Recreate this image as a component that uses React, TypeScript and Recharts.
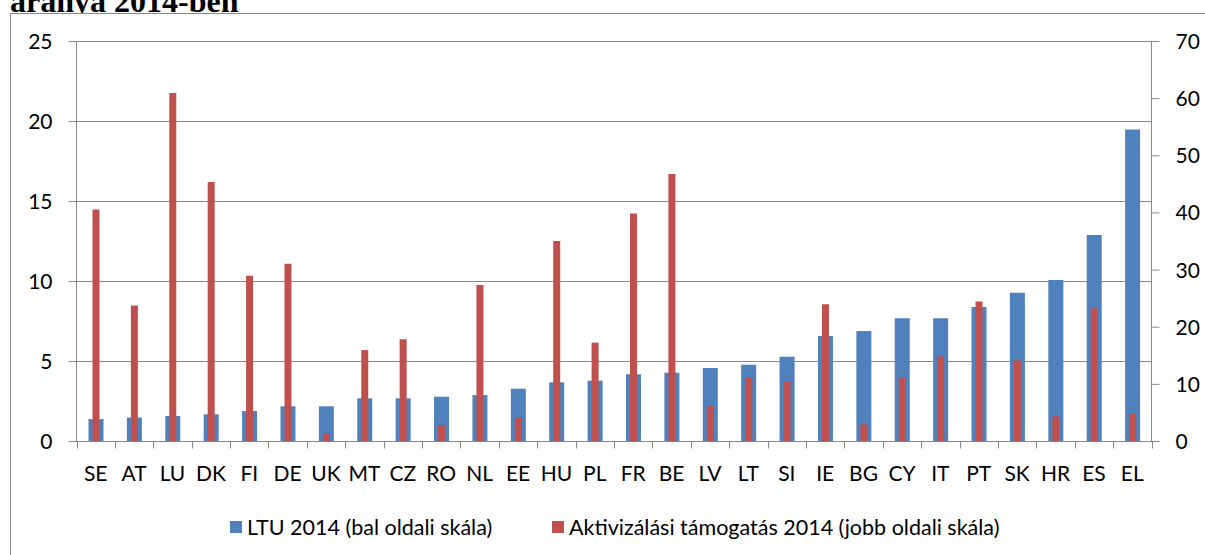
import { ComposedChart, Bar, XAxis, YAxis, CartesianGrid } from 'recharts';

const countries = ['SE', 'AT', 'LU', 'DK', 'FI', 'DE', 'UK', 'MT', 'CZ', 'RO', 'NL', 'EE', 'HU', 'PL', 'FR', 'BE', 'LV', 'LT', 'SI', 'IE', 'BG', 'CY', 'IT', 'PT', 'SK', 'HR', 'ES', 'EL'];
// LTU 2014, bal oldali skála
const ltu2014 = [1.4, 1.5, 1.6, 1.7, 1.9, 2.2, 2.2, 2.7, 2.7, 2.8, 2.9, 3.3, 3.7, 3.8, 4.2, 4.3, 4.6, 4.8, 5.3, 6.6, 6.9, 7.7, 7.7, 8.4, 9.3, 10.1, 12.9, 19.5];
// Aktivizálási támogatás 2014, jobb oldali skála
const aktiv2014 = [40.6, 23.8, 61.0, 45.4, 29.0, 31.1, 1.4, 16.0, 17.9, 2.9, 27.4, 4.1, 35.1, 17.3, 39.9, 46.8, 6.2, 11.2, 10.5, 24.0, 3.0, 11.1, 14.9, 24.5, 14.2, 4.4, 23.3, 4.8];
const leftTicks = [0, 5, 10, 15, 20, 25];
const rightTicks = [0, 10, 20, 30, 40, 50, 60, 70];
const seriesNames = ['LTU 2014 (bal oldali skála)', 'Aktivizálási támogatás 2014 (jobb oldali skála)'];
const title = 'aránya 2014-ben';

const data = countries.map((c, i) => ({ c, ltu: ltu2014[i], akt: aktiv2014[i] }));

const W = 1205;
const H = 555;
const M = { top: 41.5, right: 3.5, bottom: 73.5, left: 16.5 };
const LEFT_W = 60;
const RIGHT_W = 50;
const BAND = (W - M.left - M.right - LEFT_W - RIGHT_W) / countries.length;

const GRID = '#888888';
const BLUE = '#4F81BD';
const RED = '#C0504D';
const FONT = 'Lato, "Open Sans", sans-serif';

const tickText = { fill: '#000', fontSize: 21, fontFamily: FONT };

function CountryTick({ x, y, payload, index }: { x: number; y: number; payload: { value: string }; index: number }) {
  const edge = (px: number) => Math.round(px) + 0.5;
  return (
    <g>
      <line x1={edge(x - BAND / 2)} x2={edge(x - BAND / 2)} y1={y} y2={y + 7} stroke={GRID} />
      {index === countries.length - 1 && (
        <line x1={edge(x + BAND / 2)} x2={edge(x + BAND / 2)} y1={y} y2={y + 7} stroke={GRID} />
      )}
      <text x={x} y={y + 39} textAnchor="middle" {...tickText}>{payload.value}</text>
    </g>
  );
}

export default function App() {
  return (
    <div style={{ position: 'absolute', left: 0, top: 0, width: W, height: H, background: '#fff', overflow: 'hidden' }}>
      <div style={{ position: 'absolute', left: 10, top: -15, fontFamily: '"Liberation Serif", serif', fontWeight: 'bold', fontSize: 32, lineHeight: '32px', whiteSpace: 'nowrap' }}>
        {title}
      </div>
      <div style={{ position: 'absolute', left: 10, top: 13, right: -10, bottom: -10, borderLeft: `1px solid ${GRID}`, borderTop: `1px solid ${GRID}`, background: '#fff' }} />
      <div style={{ position: 'absolute', left: 0, top: 0 }}>
        <ComposedChart width={W} height={H} data={data} margin={M} barGap={0}>
          <CartesianGrid xAxisId="a" yAxisId="l" vertical={false} stroke={GRID} />
          <XAxis xAxisId="a" dataKey="c" height={40} interval={0} tickLine={false} tickSize={0} tickMargin={0}
            axisLine={{ stroke: GRID }} tick={(p: any) => <CountryTick {...p} />} />
          <XAxis xAxisId="b" dataKey="c" hide />
          <YAxis yAxisId="l" domain={[0, 25]} ticks={leftTicks} width={LEFT_W} tickSize={8} tickMargin={16}
            axisLine={{ stroke: GRID }} tickLine={{ stroke: GRID }} tick={tickText} />
          <YAxis yAxisId="r" orientation="right" domain={[0, 70]} ticks={rightTicks} width={RIGHT_W} tickSize={8} tickMargin={16}
            axisLine={{ stroke: GRID }} tickLine={{ stroke: GRID }} tick={tickText} />
          <Bar xAxisId="a" yAxisId="l" dataKey="ltu" name={seriesNames[0]} fill={BLUE} barSize={15} isAnimationActive={false} />
          <Bar xAxisId="b" yAxisId="r" dataKey="akt" name={seriesNames[1]} fill={RED} barSize={7} isAnimationActive={false} />
        </ComposedChart>
      </div>
      {[BLUE, RED].map((color, i) => (
        <div key={seriesNames[i]} style={{ position: 'absolute', left: i === 0 ? 230 : 552, top: 514, display: 'flex', alignItems: 'center', fontFamily: FONT, fontSize: 21.5, lineHeight: '26px', color: '#000', whiteSpace: 'nowrap' }}>
          <span style={{ display: 'inline-block', width: 12, height: 12, background: color, marginRight: 5 }} />
          {seriesNames[i]}
        </div>
      ))}
    </div>
  );
}
